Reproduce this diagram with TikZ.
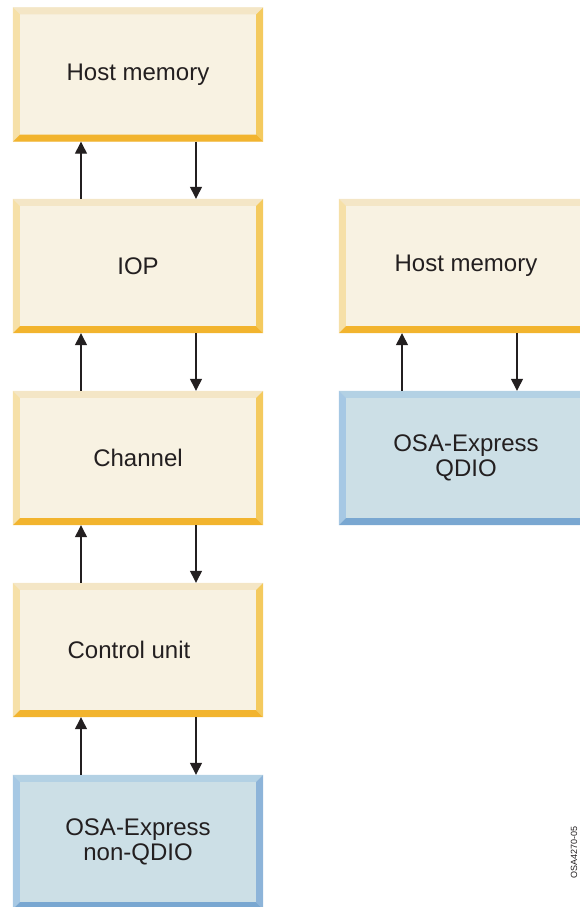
\documentclass[tikz,border=0pt]{standalone}
\usepackage{fontspec}
\setmainfont{Liberation Sans}
\usetikzlibrary{arrows.meta}

\definecolor{inkgray}{HTML}{231F20}
\definecolor{creamface}{HTML}{F8F2E2}
\definecolor{creamtop}{HTML}{F4E6C6}
\definecolor{creamleft}{HTML}{F6E0A8}
\definecolor{creamright}{HTML}{F4CA5E}
\definecolor{creambottom}{HTML}{F2B42E}
\definecolor{blueface}{HTML}{CCDFE6}
\definecolor{bluetop}{HTML}{B3D1E4}
\definecolor{blueleft}{HTML}{A6C8E4}
\definecolor{blueright}{HTML}{8DB4D9}
\definecolor{bluebottom}{HTML}{79A7D1}

% bevelled edge of a box: #1 node, #2 colour family
\newcommand{\bevel}[2]{%
  \fill[#2top] (#1.north west) -- (#1.north east) -- ([shift={(-7,7)}]#1.north east) -- ([shift={(7,7)}]#1.north west) -- cycle;
  \fill[#2left] (#1.north west) -- (#1.south west) -- ([shift={(7,-7)}]#1.south west) -- ([shift={(7,7)}]#1.north west) -- cycle;
  \fill[#2right] (#1.north east) -- (#1.south east) -- ([shift={(-7,-7)}]#1.south east) -- ([shift={(-7,7)}]#1.north east) -- cycle;
  \fill[#2bottom] (#1.south west) -- (#1.south east) -- ([shift={(-7,-7)}]#1.south east) -- ([shift={(7,-7)}]#1.south west) -- cycle;
}

\begin{document}
\begin{tikzpicture}[x=1pt,y=-1pt,
    unit/.style={minimum width=250pt,minimum height=134pt,inner sep=0,align=center,
      font=\fontsize{24}{25}\selectfont,text=inkgray},
    cream/.style={unit,fill=creamface},
    blue/.style={unit,fill=blueface},
    link/.style={line width=1.3pt,draw=inkgray,-{Triangle[length=12pt,width=12pt]}}]
  \useasboundingbox (0,0) rectangle (579,907);
  % left column
  \node[cream] (mem1) at (138,74.5) {Host memory};
  \node[cream] (iop) at (138,266) {IOP};
  \node[cream] (chan) at (138,458) {Channel};
  \node[cream] (cu) at (138,650) {Control unit\hspace*{18pt}};
  \node[blue] (osa1) at (138,842) {OSA-Express\\non-QDIO};
  % right column
  \node[cream,minimum width=254pt] (mem2) at (466,266) {Host memory};
  \node[blue,minimum width=254pt] (osa2) at (466,458) {OSA-Express\\QDIO};
  \foreach \b in {mem1,iop,chan,cu,mem2} {\bevel{\b}{cream}}
  \foreach \b in {osa1,osa2} {\bevel{\b}{blue}}
  \foreach \lo/\hi in {iop/mem1,chan/iop,cu/chan,osa1/cu} {
    \draw[link] ([xshift=-57]\lo.north) -- ([xshift=-57]\hi.south);
    \draw[link] ([xshift=58]\hi.south) -- ([xshift=58]\lo.north);
  }
  \draw[link] ([xshift=-64]osa2.north) -- ([xshift=-64]mem2.south);
  \draw[link] ([xshift=51]mem2.south) -- ([xshift=51]osa2.north);
  \node[rotate=90,inner sep=0,font=\fontsize{9}{10}\selectfont,text=inkgray] (figid) at (574,852) {OSA4270-05};
\end{tikzpicture}
\end{document}
